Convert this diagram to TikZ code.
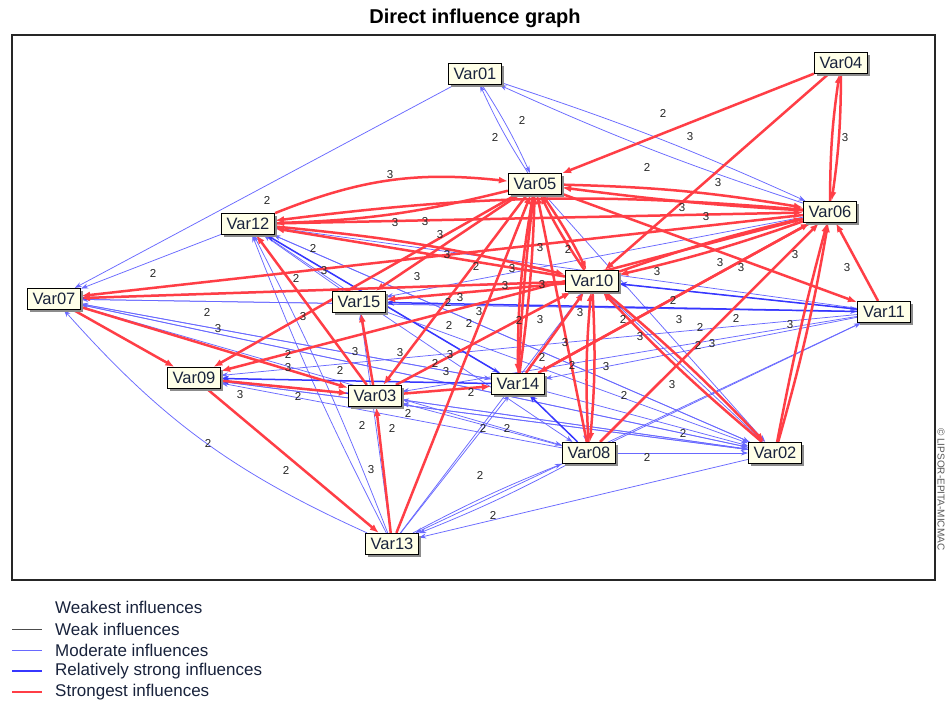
\documentclass[tikz,border=0pt]{standalone}
\usepackage{fontspec}
\setmainfont{Liberation Sans}
\usetikzlibrary{arrows.meta,shadows,backgrounds}
\definecolor{redE}{RGB}{255,62,70}
\definecolor{blueM}{RGB}{105,105,255}
\definecolor{blueR}{RGB}{55,55,255}
\definecolor{boxfill}{RGB}{255,255,232}
\definecolor{vartext}{RGB}{25,35,60}
\tikzset{
 var/.style={draw=black, line width=1.2pt, fill=boxfill, minimum width=53pt, minimum height=21pt,
   inner sep=0pt, font=\fontsize{16.5}{16.5}\selectfont, text=vartext,
   drop shadow={shadow xshift=2.5pt, shadow yshift=-2.5pt, fill=black!45, opacity=1}},
 R/.style={draw=redE, line width=2.5pt, -{Latex[length=9pt,width=7pt]}},
 M/.style={draw=blueM, line width=0.75pt, -{Stealth[length=7pt,width=5pt]}},
 S/.style={draw=blueR, line width=1.5pt, -{Stealth[length=8pt,width=6pt]}},
 lab/.style={font=\fontsize{11.5}{11.5}\selectfont, inner sep=0.5pt, text=black!85},
 legtext/.style={anchor=west, font=\fontsize{17}{17}\selectfont, text=vartext, inner sep=0pt},
}
\begin{document}
\begin{tikzpicture}[x=1pt,y=-1pt]
\useasboundingbox (0,0) rectangle (948,703);
\node[font=\bfseries\fontsize{20}{20}\selectfont] (title) at (475,18) {Direct influence graph};

% variables
\node[var] (V01) at (475,74) {Var01};
\node[var] (V04) at (841,63) {Var04};
\node[var] (V05) at (535,184) {Var05};
\node[var] (V06) at (830,212) {Var06};
\node[var] (V12) at (248,224) {Var12};
\node[var] (V07) at (54,299) {Var07};
\node[var] (V10) at (592,281) {Var10};
\node[var] (V15) at (359,302) {Var15};
\node[var] (V11) at (884,312) {Var11};
\node[var] (V09) at (194,378) {Var09};
\node[var] (V03) at (375,396) {Var03};
\node[var] (V14) at (518,384) {Var14};
\node[var] (V08) at (589,453) {Var08};
\node[var] (V02) at (775,453) {Var02};
\node[var] (V13) at (392,544) {Var13};

% labels
\foreach \n/\x/\y/\t in {
 a1/153/273/2, a2/522/120/2, a3/495/137/2, a4/663/113/2, a5/690/137/3, a6/647/167/2,
 a7/718/183/3, a8/845/138/3, a9/390/175/3, a10/267/200/2, a11/395/223/3, a12/425/222/3,
 a13/440/235/3, a14/447/255/3, a15/313/248/2, a16/324/271/3, a17/296/278/2, a18/417/277/3,
 a19/303/317/3, a20/207/312/2, a21/218/329/3, a22/240/395/3, a23/298/396/2, a24/208/443/2,
 a25/286/470/2, a26/371/470/3, a27/480/475/2, a28/493/515/2, a29/355/352/3, a30/400/353/3,
 a31/340/370/2, a32/435/363/2, a33/450/355/3, a34/446/372/3, a35/471/392/2, a36/408/413/2,
 a37/362/425/2, a38/392/428/2, a39/483/428/2, a40/507/428/2, a41/540/248/3, a42/568/249/2,
 a43/512/269/3, a44/505/286/3, a45/542/285/3, a46/519/320/2, a47/540/320/3, a48/580/313/3,
 a49/623/319/2, a50/640/337/3, a51/565/343/3, a52/542/357/2, a53/572/365/2, a54/606/367/3,
 a55/657/272/3, a56/673/300/2, a57/679/320/3, a58/795/255/3, a59/847/268/3, a60/790/325/3,
 a61/683/433/2, a62/647/457/2, a63/682/208/3, a64/706/217/3, a65/720/263/3, a66/741/268/3,
 a67/476/266/2, a68/448/302/2, a69/460/298/3, a70/479/312/3, a71/469/323/2, a72/449/325/2,
 a73/700/327/2, a74/736/318/2, a75/712/344/3, a76/672/385/3, a77/288/354/2, a78/288/368/3,
 a79/624/395/2, a80/698/345/2}
 {\node[lab] (\n) at (\x,\y) {\t};}

% legend
\coordinate (L2a) at (12,629); \coordinate (L2b) at (42,629);
\coordinate (L3a) at (12,650); \coordinate (L3b) at (42,650);
\coordinate (L4a) at (12,671); \coordinate (L4b) at (42,671);
\coordinate (L5a) at (12,692); \coordinate (L5b) at (42,692);
\node[legtext] (T1) at (55,607) {Weakest influences};
\node[legtext] (T2) at (55,629) {Weak influences};
\node[legtext] (T3) at (55,650) {Moderate influences};
\node[legtext] (T4) at (55,671) {Relatively strong influences};
\node[legtext] (T5) at (55,692) {Strongest influences};
\draw[black!70, line width=0.8pt] (L2a) -- (L2b);
\draw[blueM, line width=0.9pt] (L3a) -- (L3b);
\draw[blueR, line width=1.8pt] (L4a) -- (L4b);
\draw[redE, line width=2.2pt] (L5a) -- (L5b);

\node[rotate=-90, anchor=west, font=\fontsize{10}{10}\selectfont, text=black!65, inner sep=0pt] (copy) at (941,428) {© LIPSOR-EPITA-MICMAC};

\begin{pgfonlayer}{background}
\fill[white] (0,0) rectangle (948,703);
\draw[line width=1.3pt, black!85] (12,35) rectangle (935,580);

% moderate influences
\draw[M] (V01) -- (V07);
\draw[M] (V12) -- (V07);
\draw[M] (V01) to[bend left=4] (V05);
\draw[M] (V05) to[bend left=4] (V01);
\draw[M] (V01) to[bend left=3] (V06);
\draw[M] (V06) to[bend left=3] (V01);
\draw[M] (V13) to[bend left=12] (V07);
\draw[M] (V13) to[bend left=3] (V12);
\draw[M] (V13) to[bend right=3] (V12);
\draw[M] (V13) -- (V15);
\draw[M] (V13) -- (V14);
\draw[M] (V13) to[bend left=3] (V08);
\draw[M] (V08) to[bend left=3] (V13);
\draw[M] (V13) -- (V10);
\draw[M] (V02) -- (V13);
\draw[M] (V11) -- (V13);
\draw[M] (V11) -- (V07);
\draw[M] (V11) -- (V12);
\draw[M] (V11) -- (V09);
\draw[M] (V11) -- (V03);
\draw[M] (V11) -- (V14);
\draw[M] (V02) -- (V12);
\draw[M] (V02) -- (V07);
\draw[M] (V02) -- (V09);
\draw[M] (V02) -- (V03);
\draw[M] (V08) -- (V02);
\draw[M] (V14) -- (V02);
\draw[M] (V03) -- (V02);
\draw[M] (V09) -- (V02);
\draw[M] (V07) -- (V02);
\draw[M] (V12) -- (V02);
\draw[M] (V15) -- (V02);
\draw[M] (V10) -- (V02);
\draw[M] (V05) -- (V02);
\draw[M] (V15) -- (V12);
\draw[M] (V14) -- (V07);
\draw[M] (V07) -- (V14);
\draw[M] (V07) -- (V11);
\draw[M] (V07) -- (V08);
\draw[M] (V08) -- (V03);
\draw[M] (V08) -- (V09);
\draw[M] (V10) -- (V11);
\draw[M] (V12) -- (V08);
\draw[M] (V12) -- (V14);
\draw[M] (V06) -- (V15);
\draw[M] (V05) -- (V08);
\draw[M] (V08) -- (V11);

% relatively strong influences
\draw[S] (V10) -- (V07);
\draw[S] (V11) -- (V15);
\draw[S] (V14) -- (V12);
\draw[S] (V14) -- (V09);
\draw[S] (V03) -- (V09);
\draw[S] (V11) -- (V10);
\draw[S] (V08) -- (V14);

% strongest influences
\draw[R] (V04) -- (V05);
\draw[R] (V04) -- (V10);
\draw[R] (V04) to[bend left=4] (V06);
\draw[R] (V06) to[bend left=4] (V04);
\draw[R] (V06) to[bend left=2] (V05);
\draw[R] (V05) to[bend left=4] (V06);
\draw[R] (V06) to[bend right=6] (V12);
\draw[R] (V12) -- (V06);
\draw[R] (V12) to[bend left=14] (V05);
\draw[R] (V05) to[bend left=6] (V12);
\draw[R] (V10) -- (V12);
\draw[R] (V12) to[bend left=4] (V10);
\draw[R] (V06) -- (V07);
\draw[R] (V10) -- (V07);
\draw[R] (V07) -- (V03);
\draw[R] (V07) -- (V09);
\draw[R] (V09) -- (V03);
\draw[R] (V09) -- (V13);
\draw[R] (V03) -- (V14);
\draw[R] (V03) -- (V12);
\draw[R] (V03) -- (V15);
\draw[R] (V13) -- (V03);
\draw[R] (V13) -- (V05);
\draw[R] (V14) to[bend left=2] (V05);
\draw[R] (V14) to[bend right=3] (V05);
\draw[R] (V14) -- (V10);
\draw[R] (V14) -- (V06);
\draw[R] (V05) to[bend right=5] (V14);
\draw[R] (V08) -- (V05);
\draw[R] (V10) to[bend left=4] (V08);
\draw[R] (V08) to[bend left=4] (V10);
\draw[R] (V08) -- (V06);
\draw[R] (V02) to[bend left=2] (V06);
\draw[R] (V02) to[bend right=3] (V06);
\draw[R] (V02) to[bend left=3] (V10);
\draw[R] (V10) to[bend left=3] (V02);
\draw[R] (V05) -- (V11);
\draw[R] (V11) -- (V06);
\draw[R] (V10) -- (V15);
\draw[R] (V05) -- (V03);
\draw[R] (V06) -- (V09);
\draw[R] (V05) -- (V09);
\draw[R] (V06) to[bend left=3] (V10);
\draw[R] (V10) to[bend left=3] (V06);
\draw[R] (V05) to[bend left=4] (V10);
\draw[R] (V10) to[bend left=4] (V05);
\draw[R] (V05) -- (V15);
\draw[R] (V03) -- (V10);
\draw[R] (V06) -- (V14);
\end{pgfonlayer}
\end{tikzpicture}
\end{document}
